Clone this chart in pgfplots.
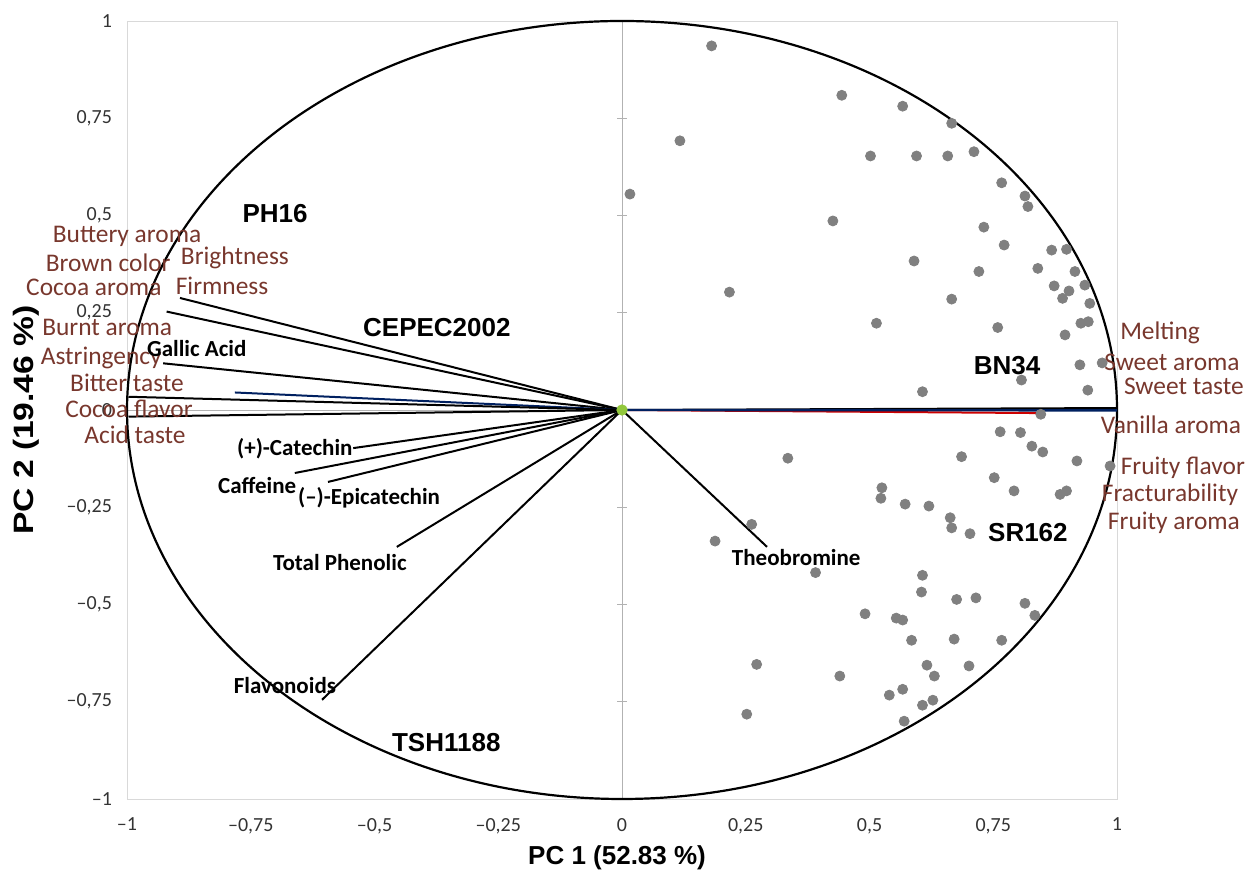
\documentclass[border=0pt]{standalone}
\usepackage{pgfplots}
\pgfplotsset{compat=1.18}
\usepackage{fontspec}
\setmainfont{Carlito}
\newfontfamily\arial{Liberation Sans}
\definecolor{sens}{RGB}{120,55,45}
\definecolor{dotgray}{RGB}{128,128,128}
\definecolor{framegray}{RGB}{217,217,217}
\definecolor{origingreen}{RGB}{146,200,60}
\definecolor{navy}{RGB}{0,32,96}

\begin{document}
\begin{tikzpicture}
\begin{axis}[
  scale only axis,
  width=495pt, height=389pt,
  xmin=-1, xmax=1, ymin=-1, ymax=1,
  clip=false,
  axis line style={framegray},
  major tick length=0pt,
  xtick={-1,-0.75,-0.5,-0.25,0,0.25,0.5,0.75,1},
  ytick={-1,-0.75,-0.5,-0.25,0,0.25,0.5,0.75,1},
  xticklabels={{–1},{–0,75},{–0,5},{–0,25},{0},{0,25},{0,5},{0,75},{1}},
  yticklabels={{–1},{–0,75},{–0,5},{–0,25},{0},{0,25},{0,5},{0,75},{1}},
  ticklabel style={font=\fontsize{10}{12}\selectfont, text=black!80},
  xticklabel style={yshift=-6pt},
  yticklabel style={xshift=-4pt},
]
% zero lines and ticks of the vertical axis
\draw[gray!60] (axis cs:-1,0) -- (axis cs:1,0);
\draw[gray!60] (axis cs:0,-1) -- (axis cs:0,1);
\pgfplotsinvokeforeach{-1,-0.75,-0.5,-0.25,0.25,0.5,0.75,1}{
  \draw[gray!60] (axis cs:-0.01,#1) -- (axis cs:0.01,#1);
}

% correlation circle
\draw[black, line width=1.1pt] (axis cs:0,0) ellipse [x radius=1, y radius=1];

% observations
\addplot[only marks, mark=*, mark size=2.5pt, color=dotgray] coordinates {
(0.181,0.936) (0.444,0.809) (0.567,0.781) (0.666,0.737) (0.117,0.692)
(0.502,0.653) (0.595,0.653) (0.658,0.653) (0.711,0.664) (0.016,0.555)
(0.767,0.584) (0.814,0.550) (0.820,0.523) (0.426,0.486) (0.731,0.470)
(0.772,0.424) (0.868,0.411) (0.898,0.413) (0.590,0.383) (0.721,0.356)
(0.840,0.364) (0.915,0.356) (0.935,0.321) (0.217,0.303) (0.666,0.285)
(0.873,0.319) (0.903,0.306) (0.890,0.287) (0.945,0.274) (0.514,0.223)
(0.759,0.212) (0.927,0.223) (0.942,0.227) (0.895,0.193) (0.925,0.116)
(0.970,0.121) (0.807,0.077) (0.607,0.047) (0.941,0.051) (0.846,-0.011)
(0.764,-0.056) (0.805,-0.058) (0.828,-0.093) (0.850,-0.108) (0.686,-0.120)
(0.335,-0.124) (0.919,-0.131) (0.986,-0.144) (0.752,-0.174) (0.792,-0.208)
(0.885,-0.217) (0.898,-0.208) (0.525,-0.200) (0.523,-0.227) (0.572,-0.242)
(0.620,-0.247) (0.663,-0.277) (0.666,-0.303) (0.703,-0.318) (0.262,-0.294)
(0.188,-0.337) (0.391,-0.418) (0.607,-0.425) (0.605,-0.468) (0.676,-0.487)
(0.715,-0.483) (0.814,-0.497) (0.834,-0.528) (0.491,-0.524) (0.554,-0.535)
(0.567,-0.540) (0.585,-0.592) (0.671,-0.589) (0.767,-0.592) (0.272,-0.654)
(0.616,-0.656) (0.701,-0.658) (0.631,-0.684) (0.440,-0.684) (0.540,-0.733)
(0.567,-0.718) (0.607,-0.759) (0.628,-0.746) (0.252,-0.782) (0.570,-0.800)
};

% variable vectors, left side
\addplot[black, line width=1pt] coordinates {(0,0) (-0.893,0.288)};
\addplot[black, line width=1pt] coordinates {(0,0) (-0.920,0.253)};
\addplot[black, line width=1pt] coordinates {(0,0) (-0.927,0.120)};
\addplot[navy, line width=1pt] coordinates {(0,0) (-0.782,0.045)};
\addplot[black, line width=1pt] coordinates {(0,0) (-0.997,0.034)};
\addplot[black, line width=1pt] coordinates {(0,0) (-0.997,-0.017)};
\addplot[black, line width=1pt] coordinates {(0,0) (-0.543,-0.098)};
\addplot[black, line width=1pt] coordinates {(0,0) (-0.661,-0.162)};
\addplot[black, line width=1pt] coordinates {(0,0) (-0.594,-0.185)};
\addplot[black, line width=1pt] coordinates {(0,0) (-0.455,-0.352)};
\addplot[black, line width=1pt] coordinates {(0,0) (-0.606,-0.745)};
% right side
\addplot[black, line width=1pt] coordinates {(0,0) (0.293,-0.352)};
\addplot[red!80!black, line width=1pt] coordinates {(0,0) (0.85,-0.008)};
\addplot[black, line width=1pt] coordinates {(0,0) (1.0,0.005)};
\addplot[navy, line width=1.2pt] coordinates {(0,0) (1.0,-0.001)};

% origin
\addplot[only marks, mark=*, mark size=2.6pt, color=origingreen] coordinates {(0,0)};

% sensory attributes
\begin{scope}[every node/.style={text=sens, font=\fontsize{12.7}{14}\selectfont, inner sep=0pt}]
\node at (axis cs:-1.000,0.445) {Buttery aroma};
\node at (axis cs:-1.038,0.378) {Brown color};
\node at (axis cs:-1.067,0.316) {Cocoa aroma};
\node at (axis cs:-0.782,0.391) {Brightness};
\node at (axis cs:-0.808,0.319) {Firmness};
\node at (axis cs:-1.040,0.213) {Burnt aroma};
\node at (axis cs:-1.052,0.134) {Astringency};
\node at (axis cs:-1.000,0.069) {Bitter taste};
\node at (axis cs:-0.996,0.003) {Cocoa flavor};
\node at (axis cs:-0.984,-0.064) {Acid taste};
\node at (axis cs:1.087,0.198) {Melting};
\node at (axis cs:1.111,0.123) {Sweet aroma};
\node at (axis cs:1.135,0.062) {Sweet taste};
\node at (axis cs:1.109,-0.039) {Vanilla aroma};
\node at (axis cs:1.133,-0.149) {Fruity flavor};
\node at (axis cs:1.107,-0.218) {Fracturability};
\node at (axis cs:1.115,-0.290) {Fruity aroma};
\end{scope}

% chemical compounds
\begin{scope}[every node/.style={text=black, font=\bfseries\fontsize{11.5}{13}\selectfont, inner sep=0pt}]
\node at (axis cs:-0.859,0.157) {Gallic Acid};
\node at (axis cs:-0.661,-0.100) {(+)-Catechin};
\node at (axis cs:-0.737,-0.193) {Caffeine};
\node at (axis cs:-0.511,-0.226) {(–)-Epicatechin};
\node at (axis cs:-0.570,-0.391) {Total Phenolic};
\node at (axis cs:-0.681,-0.709) {Flavonoids};
\node at (axis cs:0.352,-0.378) {Theobromine};
\end{scope}

% cultivars
\begin{scope}[every node/.style={text=black, font=\arial\bfseries\fontsize{13}{15}\selectfont, inner sep=0pt}]
\node at (axis cs:-0.701,0.506) {PH16};
\node at (axis cs:-0.374,0.213) {CEPEC2002};
\node at (axis cs:0.778,0.113) {BN34};
\node at (axis cs:0.820,-0.316) {SR162};
\node at (axis cs:-0.355,-0.856) {TSH1188};
\end{scope}

% axis titles
\node[rotate=90, font=\arial\bfseries\fontsize{14}{16}\selectfont] at (axis cs:-1.204,-0.026) {\scalebox{1.2}[1]{PC 2 (19.46 \%)}};
\node[font=\arial\bfseries\fontsize{13}{15}\selectfont] at (axis cs:-0.010,-1.152) {PC 1 (52.83 \%)};

\coordinate (bbtl) at (axis cs:-1.2566,1.054);
\coordinate (bbbr) at (axis cs:1.2687,-1.203);
\end{axis}
\pgfresetboundingbox
\path[use as bounding box] (bbtl) rectangle (bbbr);
\end{tikzpicture}
\end{document}
